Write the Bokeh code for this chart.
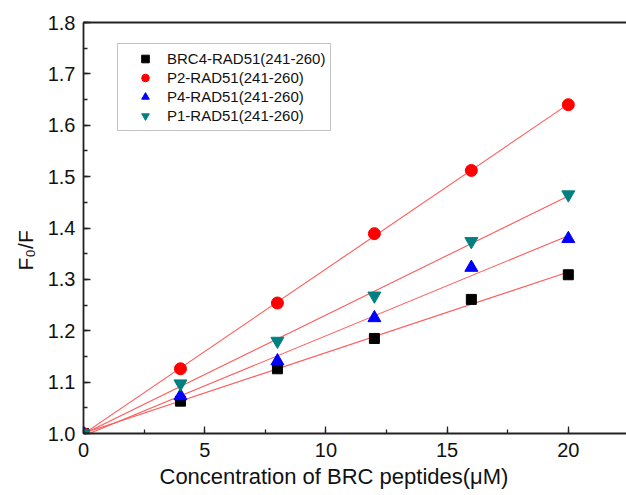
import numpy as np
from bokeh.plotting import figure
from bokeh.models import (SingleIntervalTicker, LinearAxis, Range1d, Legend, LegendItem,
                          PrintfTickFormatter, Title)
from bokeh.embed import file_html
from bokeh.resources import INLINE

x = [0, 4, 8, 12, 16, 20]
brc4 = [1.0, 1.063, 1.126, 1.185, 1.261, 1.309]
p2 = [1.0, 1.126, 1.254, 1.389, 1.512, 1.640]
p4 = [1.0, 1.073, 1.141, 1.225, 1.323, 1.379]
p1 = [1.0, 1.097, 1.180, 1.268, 1.374, 1.465]

names = ["BRC4-RAD51(241-260)", "P2-RAD51(241-260)", "P4-RAD51(241-260)", "P1-RAD51(241-260)"]
series = [brc4, p2, p4, p1]
markers = ["square", "circle", "triangle", "inverted_triangle"]
colors = ["#000000", "#ff0000", "#0000ff", "#008080"]
sizes = [10, 12, 13, 13]

FONT = "Liberation Sans"

p = figure(width=626, height=495, output_backend="svg", toolbar_location=None,
           x_range=Range1d(0, 22.4), y_range=Range1d(1.0, 1.8),
           min_border_left=83, min_border_right=0, min_border_top=22, min_border_bottom=62)
p.outline_line_color = None
p.grid.grid_line_color = None

for ax in [p.xaxis[0], p.yaxis[0]]:
    ax.axis_line_width = 1.8
    ax.axis_line_color = "#222222"
    ax.major_tick_in = 7
    ax.major_tick_out = 0
    ax.minor_tick_in = 4
    ax.minor_tick_out = 0
    ax.major_tick_line_color = "#222222"
    ax.minor_tick_line_color = "#222222"
    ax.major_tick_line_width = 1.3
    ax.minor_tick_line_width = 1.3
    ax.major_label_text_font = FONT
    ax.major_label_text_font_size = "20px"
    ax.major_label_text_color = "#111111"

p.xaxis.ticker = SingleIntervalTicker(interval=5, num_minor_ticks=2)
p.yaxis.ticker = SingleIntervalTicker(interval=0.1, num_minor_ticks=2)
p.yaxis.formatter = PrintfTickFormatter(format="%.1f")
p.xaxis.major_label_standoff = 9
p.yaxis.major_label_standoff = 8

xtitle = Title(text="Concentration of BRC peptides(\u03bcM)", align="left", offset=76,
               text_font=FONT, text_font_size="22px", text_font_style="normal",
               text_color="#111111", standoff=4)
p.add_layout(xtitle, "below")

ytitle = Title(text="F\u2080/F", align="left", offset=163,
               text_font=FONT, text_font_size="21px", text_font_style="normal",
               text_color="#111111", standoff=16)
p.add_layout(ytitle, "left")

top = LinearAxis(ticker=SingleIntervalTicker(interval=5), major_tick_in=0, major_tick_out=0,
                 minor_tick_in=0, minor_tick_out=0, major_label_text_font_size="0px",
                 axis_line_width=1.8, axis_line_color="#222222")
top.major_label_text_alpha = 0
p.add_layout(top, "above")

xa = np.array(x, dtype=float)
items = []
for name, ys in zip(names, series):
    k, b = np.polyfit(xa, np.array(ys), 1)
    xs = [min(x), max(x)]
    p.line(xs, [b + k * v for v in xs], line_color="#ff5a5a", line_width=1.1)
for name, ys, m, c, s in zip(names, series, markers, colors, sizes):
    r = p.scatter(x, ys, marker=m, size=s, fill_color=c, line_color=c)
    items.append(LegendItem(label=name, renderers=[r]))

legend = Legend(items=items, location=(34, 302), label_text_font=FONT,
                label_text_font_size="15px", label_text_color="#111111",
                border_line_color="#888888", border_line_width=1,
                padding=5, spacing=0, glyph_width=44, glyph_height=19,
                label_height=19, label_standoff=0, margin=0)
p.add_layout(legend, "center")

open("out.html", "w").write(file_html(p, INLINE))
